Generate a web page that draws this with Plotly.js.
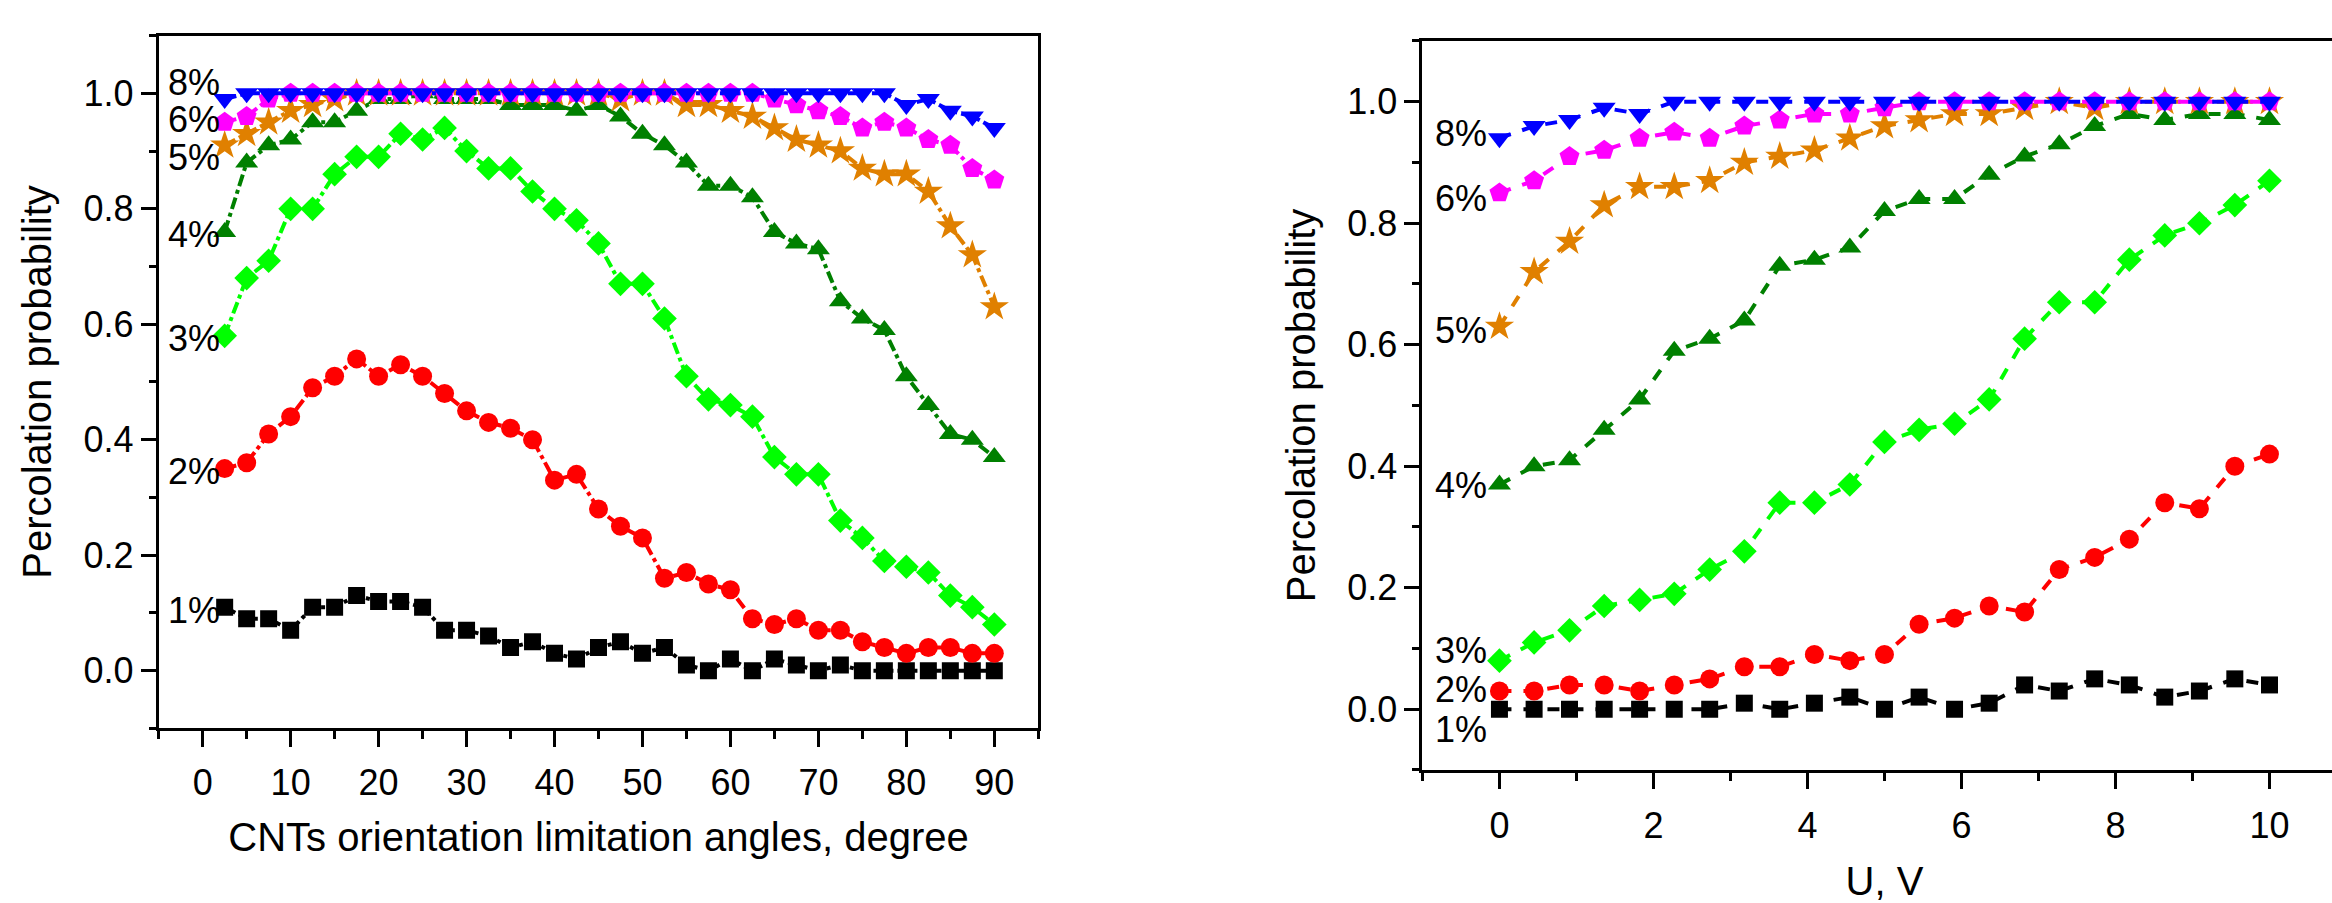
<!DOCTYPE html>
<html>
<head>
<meta charset="utf-8">
<script src="https://cdn.plot.ly/plotly-3.0.1.min.js"></script>
<style>
html, body { margin: 0; padding: 0; overflow: hidden; background: #fff; }
#chart { width: 2350px; height: 903px; }
</style>
</head>
<body>
<div id="chart"></div>
<script>
// ---- Left panel: orientation limitation angle ----
const angles = [2.5,5,7.5,10,12.5,15,17.5,20,22.5,25,27.5,30,32.5,35,37.5,40,42.5,45,47.5,50,52.5,55,57.5,60,62.5,65,67.5,70,72.5,75,77.5,80,82.5,85,87.5,90];
const ang1 = [0.11,0.09,0.09,0.07,0.11,0.11,0.13,0.12,0.12,0.11,0.07,0.07,0.06,0.04,0.05,0.03,0.02,0.04,0.05,0.03,0.04,0.01,0.00,0.02,0.00,0.02,0.01,0.00,0.01,0.00,0.00,0.00,0.00,0.00,0.00,0.00];
const ang2 = [0.35,0.36,0.41,0.44,0.49,0.51,0.54,0.51,0.53,0.51,0.48,0.45,0.43,0.42,0.40,0.33,0.34,0.28,0.25,0.23,0.16,0.17,0.15,0.14,0.09,0.08,0.09,0.07,0.07,0.05,0.04,0.03,0.04,0.04,0.03,0.03];
const ang3 = [0.58,0.68,0.71,0.80,0.80,0.86,0.89,0.89,0.93,0.92,0.94,0.90,0.87,0.87,0.83,0.80,0.78,0.74,0.67,0.67,0.61,0.51,0.47,0.46,0.44,0.37,0.34,0.34,0.26,0.23,0.19,0.18,0.17,0.13,0.11,0.08];
const ang4 = [0.76,0.88,0.91,0.92,0.95,0.95,0.97,0.99,0.99,1.00,0.99,0.99,0.99,0.98,0.98,0.98,0.97,0.98,0.96,0.93,0.91,0.88,0.84,0.84,0.82,0.76,0.74,0.73,0.64,0.61,0.59,0.51,0.46,0.41,0.40,0.37];
const ang5 = [0.91,0.93,0.95,0.97,0.98,0.99,1.00,1.00,1.00,1.00,1.00,1.00,1.00,1.00,1.00,1.00,1.00,1.00,0.99,1.00,1.00,0.98,0.98,0.97,0.96,0.94,0.92,0.91,0.90,0.87,0.86,0.86,0.83,0.77,0.72,0.63];
const ang6 = [0.95,0.96,0.99,1.00,1.00,1.00,1.00,1.00,1.00,1.00,1.00,1.00,1.00,1.00,1.00,1.00,1.00,1.00,1.00,1.00,1.00,1.00,1.00,1.00,1.00,0.99,0.98,0.97,0.96,0.94,0.95,0.94,0.92,0.91,0.87,0.85];
const ang8 = [0.99,1.00,1.00,1.00,1.00,1.00,1.00,1.00,1.00,1.00,1.00,1.00,1.00,1.00,1.00,1.00,1.00,1.00,1.00,1.00,1.00,1.00,1.00,1.00,1.00,1.00,1.00,1.00,1.00,1.00,1.00,0.98,0.99,0.97,0.96,0.94];

// ---- Right panel: voltage U ----
const volts = [0,0.45,0.91,1.36,1.82,2.27,2.73,3.18,3.64,4.09,4.55,5,5.45,5.91,6.36,6.82,7.27,7.73,8.18,8.64,9.09,9.55,10];
const u1 = [0,0,0,0,0,0,0,0.01,0,0.01,0.02,0,0.02,0,0.01,0.04,0.03,0.05,0.04,0.02,0.03,0.05,0.04];
const u2 = [0.03,0.03,0.04,0.04,0.03,0.04,0.05,0.07,0.07,0.09,0.08,0.09,0.14,0.15,0.17,0.16,0.23,0.25,0.28,0.34,0.33,0.40,0.42];
const u3 = [0.08,0.11,0.13,0.17,0.18,0.19,0.23,0.26,0.34,0.34,0.37,0.44,0.46,0.47,0.51,0.61,0.67,0.67,0.74,0.78,0.80,0.83,0.87];
const u4 = [0.37,0.40,0.41,0.46,0.51,0.59,0.61,0.64,0.73,0.74,0.76,0.82,0.84,0.84,0.88,0.91,0.93,0.96,0.98,0.97,0.98,0.98,0.97];
const u5 = [0.63,0.72,0.77,0.83,0.86,0.86,0.87,0.90,0.91,0.92,0.94,0.96,0.97,0.98,0.98,0.99,1.00,0.99,1.00,1.00,1.00,1.00,1.00];
const u6 = [0.85,0.87,0.91,0.92,0.94,0.95,0.94,0.96,0.97,0.98,0.98,0.99,1.00,1.00,1.00,1.00,1.00,1.00,1.00,1.00,1.00,1.00,1.00];
const u8 = [0.94,0.96,0.97,0.99,0.98,1.00,1.00,1.00,1.00,1.00,1.00,1.00,1.00,1.00,1.00,1.00,1.00,1.00,1.00,1.00,1.00,1.00,1.00];

const seriesNames = ['1%','2%','3%','4%','5%','6%','8%'];
const seriesColors = ['#000000','#FF0000','#00FF00','#008000','#E08000','#FF00FF','#0000FF'];
const seriesSymbols = ['square','circle','diamond','triangle-up','star','pentagon','triangle-down'];
const seriesSizes = [17,19,19,20,22,21,20];
const angleSeries = [ang1,ang2,ang3,ang4,ang5,ang6,ang8];
const voltSeries = [u1,u2,u3,u4,u5,u6,u8];

const traces = [];
angleSeries.forEach((ys, i) => {
  traces.push({
    x: angles, y: ys, xaxis: 'x', yaxis: 'y', type: 'scatter', mode: 'lines+markers',
    name: seriesNames[i], showlegend: false,
    line: {color: seriesColors[i], width: 4, dash: 'dashdot'},
    marker: {symbol: seriesSymbols[i], size: seriesSizes[i], color: seriesColors[i], line: {width: 0}}
  });
});
voltSeries.forEach((ys, i) => {
  traces.push({
    x: volts, y: ys, xaxis: 'x2', yaxis: 'y2', type: 'scatter', mode: 'lines+markers',
    name: seriesNames[i], showlegend: false,
    line: {color: seriesColors[i], width: 4, dash: 'dash'},
    marker: {symbol: seriesSymbols[i], size: seriesSizes[i], color: seriesColors[i], line: {width: 0}}
  });
});

const FONT = 'Arial, "Liberation Sans", sans-serif';
const axisCommon = {
  showline: true, linecolor: '#000', linewidth: 3, mirror: true,
  showgrid: false, zeroline: false,
  ticks: 'outside', tickcolor: '#000', tickwidth: 3,
  tickfont: {family: FONT, size: 36, color: '#000'},
  automargin: false
};

// label annotations ("x%" beside the start of each curve)
const leftLabelY = [0.105, 0.345, 0.576, 0.755, 0.888, 0.955, 1.019];
const rightLabelY = [-0.033, 0.032, 0.0975, 0.369, 0.623, 0.84, 0.948];
const annotations = [];
seriesNames.forEach((t, i) => {
  annotations.push({xref: 'x', yref: 'y', x: -1.0, y: leftLabelY[i], text: t, showarrow: false,
    font: {family: FONT, size: 36, color: '#000'}, xanchor: 'center', yanchor: 'middle'});
  annotations.push({xref: 'x2', yref: 'y2', x: -0.5, y: rightLabelY[i], text: t, showarrow: false,
    font: {family: FONT, size: 36, color: '#000'}, xanchor: 'center', yanchor: 'middle'});
});

const layout = {
  width: 2350, height: 903,
  margin: {l: 0, r: 0, t: 0, b: 0},
  paper_bgcolor: '#fff', plot_bgcolor: '#fff',
  showlegend: false,
  font: {family: FONT, color: '#000'},
  xaxis: Object.assign({}, axisCommon, {
    domain: [0.06753, 0.44183], range: [-5, 95],
    tickmode: 'linear', tick0: 0, dtick: 10, ticklen: 16,
    ticklabelstandoff: 4,
    minor: {dtick: 5, tick0: 0, ticklen: 8, tickwidth: 3, tickcolor: '#000', ticks: 'outside'},
    title: {text: 'CNTs orientation limitation angles, degree', font: {family: FONT, size: 40, color: '#000'}, standoff: 22}
  }),
  yaxis: Object.assign({}, axisCommon, {
    domain: [0.19336, 0.96058], range: [-0.1, 1.1],
    tickmode: 'linear', tick0: 0, dtick: 0.2, ticklen: 15, tickformat: '.1f',
    minor: {dtick: 0.1, tick0: 0, ticklen: 7, tickwidth: 3, tickcolor: '#000', ticks: 'outside'},
    title: {text: 'Percolation probability', font: {family: FONT, size: 40, color: '#000'}, standoff: 20}
  }),
  xaxis2: Object.assign({}, axisCommon, {
    anchor: 'y2',
    domain: [0.6053, 0.9985], range: [-1, 11],
    tickmode: 'linear', tick0: 0, dtick: 2, ticklen: 16,
    ticklabelstandoff: 6,
    minor: {dtick: 1, tick0: 0, ticklen: 8, tickwidth: 3, tickcolor: '#000', ticks: 'outside'},
    title: {text: 'U, V', font: {family: FONT, size: 40, color: '#000'}, standoff: 38}
  }),
  yaxis2: Object.assign({}, axisCommon, {
    anchor: 'x2',
    domain: [0.14729, 0.95460], range: [-0.1, 1.1],
    tickmode: 'linear', tick0: 0, dtick: 0.2, ticklen: 15, tickformat: '.1f',
    minor: {dtick: 0.1, tick0: 0, ticklen: 7, tickwidth: 3, tickcolor: '#000', ticks: 'outside'},
    title: {text: 'Percolation probability', font: {family: FONT, size: 40, color: '#000'}, standoff: 20}
  }),
  annotations: annotations
};

Plotly.newPlot('chart', traces, layout, {staticPlot: true, displayModeBar: false});
</script>
</body>
</html>
